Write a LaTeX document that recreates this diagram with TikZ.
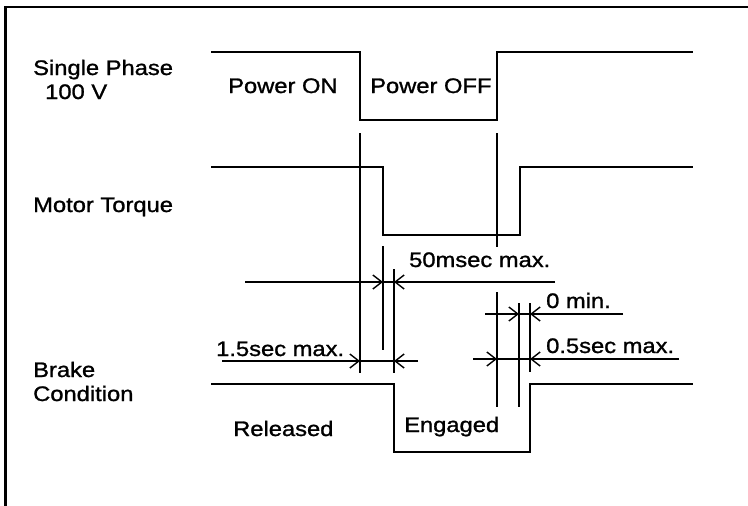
\documentclass[tikz,border=0pt]{standalone}
\usepackage{fontspec}
\setmainfont{Liberation Sans}[FakeStretch=1.13,FakeBold=1.2]
\usetikzlibrary{arrows.meta}
\begin{document}
\begin{tikzpicture}[x=1pt,y=-1pt,
  sig/.style={line width=2.8pt, line join=miter},
  tline/.style={line width=1.7pt},
  dim/.style={line width=1.4pt},
  tipr/.style={dim,-{Straight Barb[length=9pt,width=14pt,line width=1.4pt]}},
  lbl/.style={anchor=base west, inner sep=0pt, font=\fontsize{21}{25}\selectfont}]
\useasboundingbox (0,0) rectangle (748,506);
% frame
\draw[line width=2.6pt] (5.5,506) -- (5.5,7) -- (748,7);

% signals
\draw[sig] (211,52) -- (360,52) -- (360,120) -- (497,120) -- (497,52) -- (693,52);
\draw[sig] (211,167) -- (383,167) -- (383,235) -- (520,235) -- (520,167) -- (693,167);
\draw[sig] (211,384) -- (394,384) -- (394,452) -- (530,452) -- (530,384) -- (693,384);

% timing verticals
\draw[tline] (360,133) -- (360,373);
\draw[tline] (383,246) -- (383,350);
\draw[tline] (394,269) -- (394,373);
\draw[tline] (497,133) -- (497,247);
\draw[tline] (497,292) -- (497,407);
\draw[tline] (519,303) -- (519,407);
\draw[tline] (530,303) -- (530,372);

% dimension lines
\coordinate (a1) at (245,282); \coordinate (a2) at (383,282);
\coordinate (a3) at (394,282); \coordinate (a4) at (555,282);
\draw[tipr] (a1) -- (a2); \draw[tipr] (a4) -- (a3); \draw[dim] (a2) -- (a3);

\coordinate (b1) at (222,361); \coordinate (b2) at (360,361);
\coordinate (b3) at (394,361); \coordinate (b4) at (418,361);
\draw[tipr] (b1) -- (b2); \draw[tipr] (b4) -- (b3); \draw[dim] (b2) -- (b3);

\coordinate (c1) at (485,314); \coordinate (c2) at (519,314);
\coordinate (c3) at (530,314); \coordinate (c4) at (623,314);
\draw[tipr] (c1) -- (c2); \draw[tipr] (c4) -- (c3); \draw[dim] (c2) -- (c3);

\coordinate (d1) at (473,359); \coordinate (d2) at (497,359);
\coordinate (d3) at (530,359); \coordinate (d4) at (679,359);
\draw[tipr] (d1) -- (d2); \draw[tipr] (d4) -- (d3); \draw[dim] (d2) -- (d3);

% labels
\node[lbl] (sp) at (33,75) {Single Phase};
\node[lbl] (v100) at (45,99) {100 V};
\node[lbl] (mt) at (33,212) {Motor Torque};
\node[lbl] (br) at (33,377) {Brake};
\node[lbl] (cond) at (33,401) {Condition};
\node[lbl] (pon) at (228,93) {Power ON};
\node[lbl] (poff) at (370,93) {Power OFF};
\node[lbl] (rel) at (233,436) {Released};
\node[lbl] (eng) at (404,432) {Engaged};
\node[lbl] (t50) at (409,267) {50msec max.};
\node[lbl] (t0) at (546,308) {0 min.};
\node[lbl] (t05) at (546,353) {0.5sec max.};
\node[lbl] (t15) at (216,356) {1.5sec max.};
\end{tikzpicture}
\end{document}
